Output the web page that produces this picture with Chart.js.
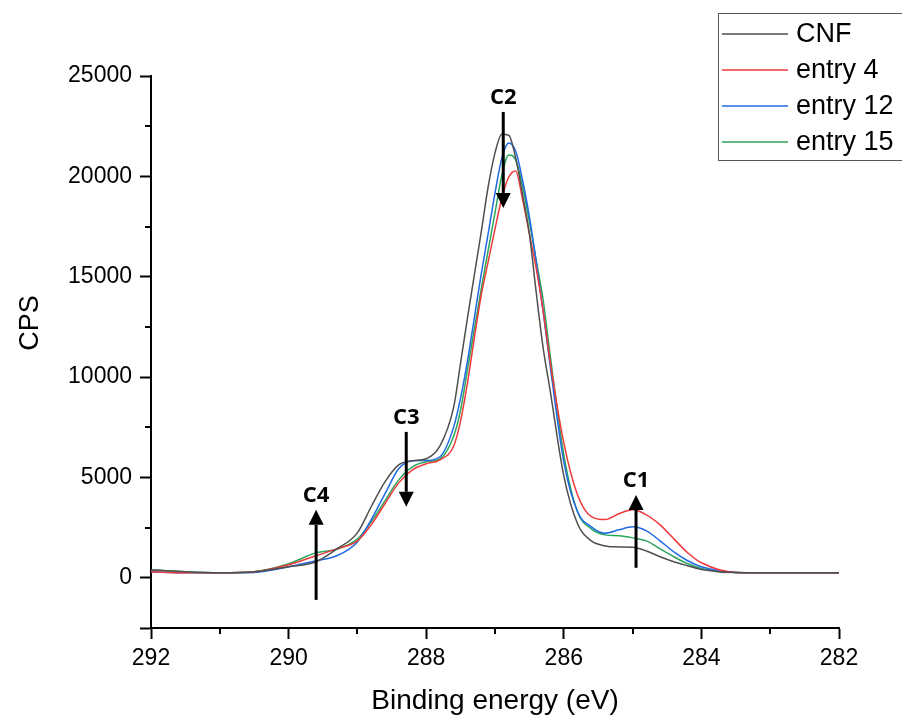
<!DOCTYPE html>
<html>
<head>
<meta charset="utf-8">
<script src="https://cdn.jsdelivr.net/npm/chart.js@4.4.1/dist/chart.umd.min.js"></script>
<style>
  html, body { margin: 0; padding: 0; background: #fff; }
  #wrap { width: 902px; height: 715px; position: relative; }
</style>
</head>
<body>
<div id="wrap"><canvas id="xpsChart" width="902" height="715"></canvas></div>
<script>
// binding energy grid (eV)
const energy = [292, 291.5, 291, 290.5, 290, 289.6, 289.3, 289.0, 288.8, 288.6, 288.4, 288.2, 288.0, 287.8, 287.6, 287.5, 287.4, 287.3, 287.2, 287.1, 287.0, 286.9, 286.8, 286.7, 286.6, 286.5, 286.4, 286.3, 286.2, 286.0, 285.8, 285.6, 285.4, 285.2, 285.0, 284.8, 284.6, 284.4, 284.2, 284.0, 283.5, 283.0, 282.0];

// CPS
const cnf = [400, 300, 250, 300, 550, 800, 1440, 2240, 3540, 4780, 5630, 5830, 5930, 6570, 8520, 10710, 12950, 15090, 17230, 19470, 21170, 22100, 22050, 20920, 19120, 17130, 14190, 11450, 9360, 5080, 2690, 1840, 1590, 1540, 1520, 1340, 1050, 800, 600, 420, 260, 250, 250];
const entry4 = [300, 250, 250, 300, 650, 1100, 1440, 1840, 2640, 3690, 4730, 5380, 5680, 5880, 6570, 7820, 9710, 11950, 14090, 15740, 17380, 18920, 19970, 20270, 18870, 17130, 15390, 13300, 10810, 6720, 4130, 3050, 2900, 3190, 3390, 3140, 2640, 1940, 1250, 750, 270, 250, 250];
const entry12 = [300, 250, 250, 270, 550, 850, 1100, 1790, 2890, 4180, 5430, 5830, 5850, 6030, 7520, 8960, 10810, 12950, 15140, 17130, 19170, 20920, 21660, 21260, 19820, 17980, 15740, 13250, 10610, 5780, 3290, 2540, 2220, 2390, 2540, 2340, 1840, 1290, 850, 550, 270, 250, 250];
const entry15 = [400, 300, 250, 300, 700, 1250, 1420, 1940, 2790, 3830, 4880, 5530, 5780, 5930, 7070, 8370, 10360, 12400, 14400, 16300, 18180, 20070, 21070, 20820, 19520, 17730, 15790, 13840, 11150, 6130, 3290, 2440, 2140, 2090, 1990, 1840, 1440, 1050, 700, 470, 270, 250, 250];

const seriesNames = ["CNF", "entry 4", "entry 12", "entry 15"];
const seriesColors = ["#4f4f4f", "#f0393b", "#1f6ae3", "#2ba55a"];

// peak markers: label, energy, arrow tail, arrow tip (CPS)
const markNames = ["C1", "C2", "C3", "C4"];
const markEnergy = [284.95, 286.88, 288.29, 289.60];
const markFrom = [500, 23210, 7270, -1100];
const markTo = [4130, 18430, 3540, 3390];

const xTicks = [292, 290, 288, 286, 284, 282];
const yTicks = [-2500, 0, 5000, 10000, 15000, 20000, 25000];
const xMinor = [291, 289, 287, 285, 283];
const yMinor = [2500, 7500, 12500, 17500, 22500];

const allSeries = [cnf, entry4, entry12, entry15];

const datasets = allSeries.map((vals, i) => ({
  label: seriesNames[i],
  data: energy.map((e, k) => ({ x: e, y: vals[k] })),
  borderColor: seriesColors[i],
  borderWidth: 1.5,
  pointRadius: 0,
  cubicInterpolationMode: "monotone",
  fill: false,
}));

// minor ticks, axis title "CPS", the legend box and the C1..C4 arrows
const extrasPlugin = {
  id: "extras",
  afterDraw(chart) {
    const ctx = chart.ctx;
    const xs = chart.scales.x;
    const ys = chart.scales.y;
    const area = chart.chartArea;

    ctx.save();
    ctx.strokeStyle = "#000";
    ctx.lineWidth = 2;
    xMinor.forEach((v) => {
      const px = Math.round(xs.getPixelForValue(v));
      ctx.beginPath();
      ctx.moveTo(px, area.bottom);
      ctx.lineTo(px, area.bottom + 6);
      ctx.stroke();
    });
    yMinor.forEach((v) => {
      const py = Math.round(ys.getPixelForValue(v));
      ctx.beginPath();
      ctx.moveTo(area.left, py);
      ctx.lineTo(area.left - 6, py);
      ctx.stroke();
    });

    // y title
    ctx.fillStyle = "#000";
    ctx.font = "27px 'Liberation Sans', Arial, sans-serif";
    ctx.textAlign = "center";
    ctx.textBaseline = "middle";
    ctx.translate(31, 323);
    ctx.rotate(-Math.PI / 2);
    ctx.fillText("CPS", 0, 0);
    ctx.restore();

    // arrows
    ctx.save();
    ctx.fillStyle = "#000";
    ctx.strokeStyle = "#000";
    ctx.lineWidth = 3;
    ctx.font = "bold 22px 'Open Sans', 'DejaVu Sans', sans-serif";
    ctx.textAlign = "center";
    ctx.textBaseline = "middle";
    markNames.forEach((name, i) => {
      const px = xs.getPixelForValue(markEnergy[i]);
      const y0 = ys.getPixelForValue(markFrom[i]);
      const y1 = ys.getPixelForValue(markTo[i]);
      const dir = y1 > y0 ? 1 : -1;
      const headLen = 15;
      ctx.beginPath();
      ctx.moveTo(px, y0);
      ctx.lineTo(px, y1 - dir * headLen);
      ctx.stroke();
      ctx.beginPath();
      ctx.moveTo(px, y1);
      ctx.lineTo(px - 7.5, y1 - dir * headLen);
      ctx.lineTo(px + 7.5, y1 - dir * headLen);
      ctx.closePath();
      ctx.fill();
      const top = Math.min(y0, y1);
      ctx.fillText(name, px, top - 14);
    });
    ctx.restore();

    // legend box
    ctx.save();
    ctx.strokeStyle = "#555";
    ctx.lineWidth = 1;
    ctx.strokeRect(718.5, 13.5, 200, 147);
    ctx.font = "27px 'Liberation Sans', Arial, sans-serif";
    ctx.textAlign = "left";
    ctx.textBaseline = "middle";
    seriesNames.forEach((name, i) => {
      const cy = 34 + i * 36;
      ctx.strokeStyle = seriesColors[i];
      ctx.lineWidth = 1.5;
      ctx.beginPath();
      ctx.moveTo(722, cy);
      ctx.lineTo(788, cy);
      ctx.stroke();
      ctx.fillStyle = "#000";
      ctx.fillText(name, 796, cy + 1);
    });
    ctx.restore();
  },
};

new Chart(document.getElementById("xpsChart"), {
  type: "line",
  data: { datasets },
  options: {
    responsive: false,
    animation: false,
    layout: { padding: { left: 0, right: 63, top: 76, bottom: 0 } },
    plugins: { legend: { display: false }, tooltip: { enabled: false } },
    scales: {
      x: {
        type: "linear",
        min: 282,
        max: 292,
        reverse: true,
        border: { display: true, color: "#000", width: 2 },
        grid: { drawOnChartArea: false, drawTicks: true, tickLength: 11, tickWidth: 2, color: "#000" },
        ticks: {
          color: "#000",
          padding: 6,
          maxRotation: 0,
          autoSkip: false,
          font: { family: "'Liberation Sans', Arial, sans-serif", size: 23 },
        },
        afterBuildTicks(scale) { scale.ticks = xTicks.map((v) => ({ value: v })); },
        title: {
          display: true,
          text: "Binding energy (eV)",
          color: "#000",
          padding: { top: 0, bottom: 0 },
          font: { family: "'Liberation Sans', Arial, sans-serif", size: 28, lineHeight: 1 },
        },
        afterFit(scale) { scale.height = 87; },
      },
      y: {
        type: "linear",
        min: -2500,
        max: 25000,
        border: { display: true, color: "#000", width: 2 },
        grid: { drawOnChartArea: false, drawTicks: true, tickLength: 11, tickWidth: 2, color: "#000" },
        ticks: {
          color: "#000",
          padding: 8,
          autoSkip: false,
          font: { family: "'Liberation Sans', Arial, sans-serif", size: 23 },
          callback: (v) => (v < 0 ? "" : String(v)),
        },
        afterBuildTicks(scale) { scale.ticks = yTicks.map((v) => ({ value: v })); },
        afterFit(scale) { scale.width = 151; },
      },
    },
  },
  plugins: [extrasPlugin],
});
</script>
</body>
</html>
